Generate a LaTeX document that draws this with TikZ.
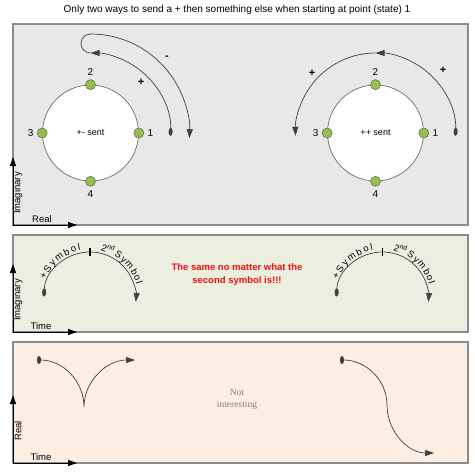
\documentclass[tikz,border=0pt]{standalone}
\usepackage{fontspec}
\setmainfont{Liberation Sans}
\newfontfamily\notefont{Liberation Serif}
\usetikzlibrary{arrows.meta, decorations.text}
\definecolor{boxgray}{HTML}{E8E8E8}
\definecolor{boxsage}{HTML}{ECEEE0}
\definecolor{boxpeach}{HTML}{FDEEE4}
\definecolor{edgegray}{HTML}{8C8C8C}
\definecolor{ringgray}{HTML}{6E6E6E}
\definecolor{arcgray}{HTML}{404040}
\definecolor{dotgreen}{HTML}{9BBB59}
\definecolor{dotedge}{HTML}{5E7E30}
\definecolor{alertred}{HTML}{EE1111}

\begin{document}
\begin{tikzpicture}[x=1pt, y=1pt,
    panel/.style={draw=edgegray, line width=1.2pt},
    axis/.style={-{Triangle[length=9pt,width=6pt]}, line width=0.8pt},
    ring/.style={circle, draw=ringgray, fill=white, line width=0.7pt, minimum size=96pt, inner sep=0pt, font=\fontsize{9}{10}\selectfont},
    pt/.style={circle, draw=dotedge, fill=dotgreen, line width=0.6pt, minimum size=10pt, inner sep=0pt, label distance=0pt, font=\fontsize{9}{10}\selectfont},
    move/.style={{Ellipse[length=8pt,width=4pt]}-{Triangle[length=9pt,width=6pt]}, draw=arcgray, line width=0.7pt},
    flatmove/.style={{Ellipse[length=4pt,width=8pt]}-{Triangle[length=9pt,width=6pt]}, draw=arcgray, line width=0.7pt},
    turn/.style={-{Triangle[length=9pt,width=6pt]}, draw=arcgray, line width=0.7pt},
    sign/.style={font=\fontsize{11}{11}\selectfont\bfseries},
    axlbl/.style={font=\fontsize{9.5}{10}\selectfont},
    symtext/.style={decorate, decoration={text along path, raise=2.5pt, text align=fit to path, text={|\fontsize{9.5}{10}\selectfont|#1}}}
    ]
    \useasboundingbox (0,0) rectangle (474,-476);
    \node[font=\fontsize{10}{12}\selectfont] (title) at (237,-10) {Only two ways to send a + then something else when starting at point (state) 1};

    % the three panels
    \draw[panel, fill=boxgray] (13,-24) rectangle (468,-225);
    \draw[panel, fill=boxsage] (13,-235) rectangle (468,-332);
    \draw[panel, fill=boxpeach] (13,-342) rectangle (468,-463);

    % axes
    \coordinate (o1) at (13,-225);
    \coordinate (o2) at (13,-332);
    \coordinate (o3) at (13,-463);
    \foreach \o in {o1, o2, o3}{
        \draw[axis] (\o) -- ++(0,68);
        \draw[axis] (\o) -- ++(64,0);
    }
    \node[axlbl, rotate=90] (im1) at (18,-193) {Imaginary};
    \node[axlbl] (re1) at (42,-219) {Real};
    \node[axlbl, rotate=90] (im2) at (18,-300) {Imaginary};
    \node[axlbl] (t2) at (41,-326) {Time};
    \node[axlbl, rotate=90] (re3) at (18,-431) {Real};
    \node[axlbl] (t3) at (41,-457) {Time};

    % constellations
    \node[ring] (c1) at (90.5,-133) {+- sent};
    \node[ring] (c2) at (375.5,-133) {++ sent};
    \foreach \c in {c1, c2}{
        \node[pt, label=right:1] (\c-1) at (\c.east) {};
        \node[pt, label=above:2] (\c-2) at (\c.north) {};
        \node[pt, label=left:3] (\c-3) at (\c.west) {};
        \node[pt, label=below:4] (\c-4) at (\c.south) {};
    }

    % +- path
    \draw[move] ([shift={(-2:80)}]c1.center) arc[start angle=-2, end angle=90, radius=80];
    \draw[turn] ([shift={(90:80)}]c1.center) arc[start angle=270, end angle=90, radius=9.5]
        arc[start angle=90, end angle=-3, radius=99];
    \node[sign] (p1) at (141,-82) {+};
    \node[sign] (m1) at (167,-58) {-};

    % ++ path
    \draw[move] ([shift={(-2:80)}]c2.center) arc[start angle=-2, end angle=90, radius=80];
    \draw[turn] ([shift={(90:80)}]c2.center) arc[start angle=90, end angle=182, radius=80];
    \node[sign] (p2) at (443,-70) {+};
    \node[sign] (p3) at (312,-73) {+};

    % symbols in time
    \coordinate (s1) at (90,-298);
    \coordinate (s2) at (382.5,-298);
    \foreach \s in {s1, s2}{
        \draw[move] ([shift={(178:46)}]\s) arc[start angle=178, end angle=-5, radius=46];
        \draw[line width=1.6pt] ([shift={(0,42)}]\s) -- ([shift={(0,50)}]\s);
        \path[symtext={+Symbol}] ([shift={(158:46)}]\s) arc[start angle=158, end angle=101, radius=46];
        \path[symtext={{2\textsuperscript{nd}}Symbol}] ([shift={(78:46)}]\s) arc[start angle=78, end angle=16, radius=46];
    }
    \node[text=alertred, font=\bfseries\fontsize{9.5}{13}\selectfont, align=center] (note) at (237,-275)
        {The same no matter what the\\second symbol is!!!};

    % real part in time
    \draw[flatmove] (37,-360) arc[start angle=90, end angle=0, x radius=47, y radius=47]
        arc[start angle=180, end angle=90, x radius=51, y radius=47];
    \draw[flatmove] (340,-360) arc[start angle=90, end angle=0, x radius=47, y radius=45]
        arc[start angle=180, end angle=270, x radius=47, y radius=48];
    \node[text=gray, font=\notefont\fontsize{9.5}{12}\selectfont, align=center] (dull) at (237,-399) {Not\\interesting};
\end{tikzpicture}
\end{document}
